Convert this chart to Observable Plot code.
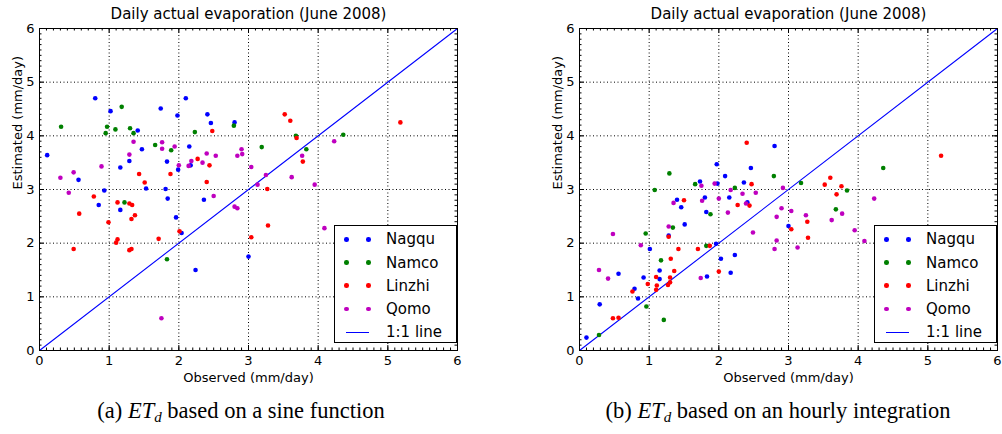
<!DOCTYPE html>
<html><head><meta charset="utf-8">
<script src="https://cdn.jsdelivr.net/npm/d3@7"></script>
<script src="https://cdn.jsdelivr.net/npm/@observablehq/plot@0.6"></script>
<style>
body{margin:0;background:#fff;}
#wrap{position:relative;width:1002px;height:434px;overflow:hidden;font-family:"DejaVu Sans",sans-serif;}
.panel{position:absolute;top:0;}
.panel svg{overflow:visible;max-width:none !important;}
.legend{position:absolute;border:1px solid #000;background:#fff;box-sizing:border-box;}
.legend .row{position:absolute;left:0;height:0;}
.legend .dot{position:absolute;width:4.6px;height:4.6px;border-radius:50%;}
.legend .lbl{position:absolute;font-size:15px;line-height:18px;top:-9px;white-space:nowrap;color:#000;}
.legend .ln{position:absolute;height:1.2px;top:-0.6px;background:#0000ff;}
.caption{position:absolute;font-family:"Liberation Serif","Times New Roman",serif;font-size:22.5px;line-height:26px;white-space:nowrap;transform:translateX(-50%);color:#000;}
.caption sub{font-size:15px;vertical-align:-4px;}
</style></head><body><div id="wrap"></div><script>
// ---------- data ----------
const seriesNames = ["Nagqu", "Namco", "Linzhi", "Qomo"];
const seriesColors = ["#0000ff", "#008000", "#ff0000", "#bf00bf"];
const majorTicks = [0, 1, 2, 3, 4, 5, 6];
const minorTicks = d3.range(0, 61).map(i => i / 10);
const oneToOne = [0, 6];
const titleText = "Daily actual evaporation (June 2008)";
const xLabel = "Observed (mm/day)";
const yLabel = "Estimated (mm/day)";

// panel (a): [observed, estimated]
const nagquA = [[0.80,4.70],[1.02,4.46],[0.11,3.64],[0.56,3.18],[0.93,2.98],[0.85,2.71],[1.16,2.62],[1.41,4.10],[1.47,3.75],[1.29,3.53],[1.16,3.41],[1.53,3.02],[1.84,2.83],[1.74,4.51],[1.98,4.38],[2.10,4.70],[2.41,4.40],[2.46,4.24],[2.15,3.80],[1.83,3.52],[1.99,3.37],[2.17,3.45],[1.81,3.01],[2.36,2.81],[2.80,4.25],[1.96,2.48],[2.04,2.19],[2.24,1.50],[3.00,1.75]];
const namcoA = [[0.31,4.17],[1.18,4.54],[0.97,4.17],[0.95,4.05],[1.09,4.12],[1.30,4.14],[1.35,4.05],[1.66,3.83],[1.89,3.73],[2.23,4.07],[1.22,2.76],[2.79,4.19],[3.68,4.00],[3.19,3.79],[3.83,3.75],[4.36,4.02],[1.83,1.70]];
const linzhiA = [[2.48,4.09],[2.27,3.57],[2.44,3.45],[2.40,3.14],[1.88,3.29],[1.43,3.29],[1.51,3.13],[0.78,2.87],[1.12,2.76],[1.29,2.74],[1.33,2.71],[3.52,4.40],[3.60,4.28],[3.69,3.96],[3.78,3.52],[3.27,3.01],[5.18,4.25],[0.57,2.55],[0.99,2.39],[1.37,2.52],[1.32,2.45],[1.12,2.07],[1.10,2.01],[1.71,2.08],[0.49,1.89],[1.29,1.87],[1.32,1.89],[2.01,2.22],[3.28,2.33],[3.04,2.11]];
const qomoA = [[1.35,3.89],[1.76,3.88],[1.76,3.76],[1.94,3.80],[1.29,3.65],[0.89,3.43],[0.49,3.32],[0.30,3.22],[0.42,2.94],[2.00,3.45],[2.18,3.53],[2.14,3.44],[2.34,3.50],[2.40,3.67],[2.53,3.63],[2.50,2.88],[2.90,3.75],[2.84,3.63],[2.91,3.66],[3.04,3.42],[3.25,3.27],[3.13,3.09],[3.62,3.23],[3.77,3.63],[3.95,3.09],[4.23,3.90],[2.80,2.68],[2.84,2.65],[1.75,0.60],[4.09,2.28]];

// panel (b): [observed, estimated]
const nagquB = [[2.80,3.81],[1.97,3.47],[2.46,3.40],[2.09,3.25],[2.36,3.13],[1.73,3.15],[1.98,3.11],[1.80,2.85],[2.15,2.85],[1.40,2.81],[2.41,2.76],[1.46,2.67],[1.82,2.58],[1.51,2.35],[1.28,2.14],[1.96,1.99],[1.01,1.89],[3.00,2.32],[2.03,1.71],[2.23,1.78],[2.17,1.45],[0.56,1.43],[1.15,1.49],[1.15,1.33],[0.92,1.36],[0.79,1.15],[1.83,1.38],[0.84,0.97],[0.29,0.86],[0.10,0.24]];
const namcoB = [[1.29,3.30],[1.66,3.10],[2.23,3.03],[2.79,3.25],[1.08,2.99],[1.88,2.54],[1.34,2.29],[0.95,2.18],[1.82,1.95],[4.36,3.40],[3.18,3.12],[3.84,2.98],[3.68,2.63],[1.17,1.68],[0.96,0.82],[1.21,0.57],[0.28,0.29]];
const linzhiB = [[2.40,3.87],[2.47,3.10],[1.50,2.80],[2.27,2.71],[2.44,2.70],[1.28,2.12],[1.87,1.95],[1.42,1.89],[1.70,1.89],[5.19,3.63],[3.60,3.22],[3.52,3.09],[3.76,3.06],[3.69,2.91],[3.27,2.40],[3.04,2.26],[3.28,2.10],[1.31,1.71],[2.00,1.47],[1.36,1.48],[1.10,1.37],[1.30,1.36],[1.30,1.27],[1.27,1.22],[0.98,1.24],[1.11,1.21],[1.10,1.13],[0.76,1.10],[0.48,0.60],[0.56,0.61]];
const qomoB = [[1.94,3.11],[1.75,3.07],[2.17,2.99],[2.34,2.92],[2.53,2.94],[2.39,2.74],[2.00,2.83],[1.76,2.79],[1.35,2.75],[2.13,2.57],[1.28,2.31],[2.90,2.65],[2.83,2.49],[2.49,2.20],[0.48,2.17],[2.83,2.05],[0.88,1.96],[2.80,1.89],[2.92,3.03],[4.23,2.83],[3.04,2.60],[3.25,2.52],[3.77,2.55],[3.62,2.43],[3.95,2.24],[4.09,2.04],[3.13,1.92],[0.28,1.50],[0.41,1.34],[1.74,1.35]];

const captionA = '(a) <i>ET</i><sub><i>d</i></sub> based on a sine function';
const captionB = '(b) <i>ET</i><sub><i>d</i></sub> based on an hourly integration';

// ---------- drawing ----------
const wrap = document.getElementById("wrap");
const ML = 39, MT = 28, FW = 418, FH = 322, H = 390;

function panel(seriesData, left, caption, captionX) {
  const W = ML + FW + 45;
  const div = document.createElement("div");
  div.className = "panel";
  div.style.left = left + "px";
  div.style.width = W + "px";
  const black = "#000";
  const marks = [
    Plot.gridX(majorTicks, {stroke: black, strokeOpacity: 1, strokeWidth: 1, strokeDasharray: "1,2.5"}),
    Plot.gridY(majorTicks, {stroke: black, strokeOpacity: 1, strokeWidth: 1, strokeDasharray: "1,2.5"}),
    Plot.tickX(minorTicks, {x: d => d, insetTop: FH - 2.5, stroke: black}),
    Plot.tickX(minorTicks, {x: d => d, insetBottom: FH - 2.5, stroke: black}),
    Plot.tickY(minorTicks, {y: d => d, insetRight: FW - 2.5, stroke: black}),
    Plot.tickY(minorTicks, {y: d => d, insetLeft: FW - 2.5, stroke: black}),
    Plot.tickX(majorTicks, {x: d => d, insetTop: FH - 5, stroke: black}),
    Plot.tickX(majorTicks, {x: d => d, insetBottom: FH - 5, stroke: black}),
    Plot.tickY(majorTicks, {y: d => d, insetRight: FW - 5, stroke: black}),
    Plot.tickY(majorTicks, {y: d => d, insetLeft: FW - 5, stroke: black}),
    Plot.line(oneToOne, {x: d => d, y: d => d, stroke: "#0000ff", strokeWidth: 1.1})
  ];
  seriesData.forEach((s, i) => {
    marks.push(Plot.dot(s, {x: d => d[0], y: d => d[1], r: 2.3, fill: seriesColors[i], stroke: "none"}));
  });
  marks.push(
    Plot.frame({stroke: black, strokeWidth: 1}),
    Plot.axisX(majorTicks, {tickSize: 0, tickPadding: 5, label: null, fontSize: 13, tickFormat: d => String(d)}),
    Plot.axisY(majorTicks, {tickSize: 0, tickPadding: 5, label: null, fontSize: 13, tickFormat: d => String(d)}),
    Plot.text([titleText], {text: d => d, frameAnchor: "top", dy: -14, lineAnchor: "middle", fontSize: 15}),
    Plot.text([xLabel], {text: d => d, frameAnchor: "bottom", dy: 27, lineAnchor: "middle", fontSize: 13}),
    Plot.text([yLabel], {text: d => d, frameAnchor: "left", dx: -22, rotate: -90, lineAnchor: "middle", fontSize: 13})
  );
  const chart = Plot.plot({
    width: W, height: H,
    marginLeft: ML, marginRight: W - ML - FW, marginTop: MT, marginBottom: H - MT - FH,
    x: {domain: [0, 6]}, y: {domain: [0, 6]},
    style: {fontFamily: "DejaVu Sans, sans-serif", color: "#000", background: "transparent", overflow: "visible", maxWidth: "none"},
    marks
  });
  div.appendChild(chart);
  wrap.appendChild(div);

  // legend
  const lg = document.createElement("div");
  lg.className = "legend";
  lg.style.left = (left + 334) + "px";
  lg.style.top = "225px";
  lg.style.width = "123px";
  lg.style.height = "118px";
  const rowsY = [13.3, 36.5, 59.7, 82.9, 106.1];
  seriesNames.forEach((n, i) => {
    const row = document.createElement("div");
    row.className = "row";
    row.style.top = rowsY[i] + "px";
    [11.5, 33.5].forEach(cx => {
      const d = document.createElement("div");
      d.className = "dot";
      d.style.background = seriesColors[i];
      d.style.left = (cx - 2.3) + "px";
      d.style.top = "-2.3px";
      row.appendChild(d);
    });
    const t = document.createElement("div");
    t.className = "lbl"; t.style.left = "51px"; t.textContent = n;
    row.appendChild(t);
    lg.appendChild(row);
  });
  const row = document.createElement("div");
  row.className = "row"; row.style.top = rowsY[4] + "px";
  const ln = document.createElement("div");
  ln.className = "ln"; ln.style.left = "11px"; ln.style.width = "23px";
  row.appendChild(ln);
  const t = document.createElement("div");
  t.className = "lbl"; t.style.left = "51px"; t.textContent = "1:1 line";
  row.appendChild(t);
  lg.appendChild(row);
  wrap.appendChild(lg);

  const cap = document.createElement("div");
  cap.className = "caption";
  cap.style.left = captionX + "px";
  cap.style.top = "398px";
  cap.innerHTML = caption;
  wrap.appendChild(cap);
}

panel([nagquA, namcoA, linzhiA, qomoA], 0, captionA, 241);
panel([nagquB, namcoB, linzhiB, qomoB], 540, captionB, 778);
</script></body></html>
